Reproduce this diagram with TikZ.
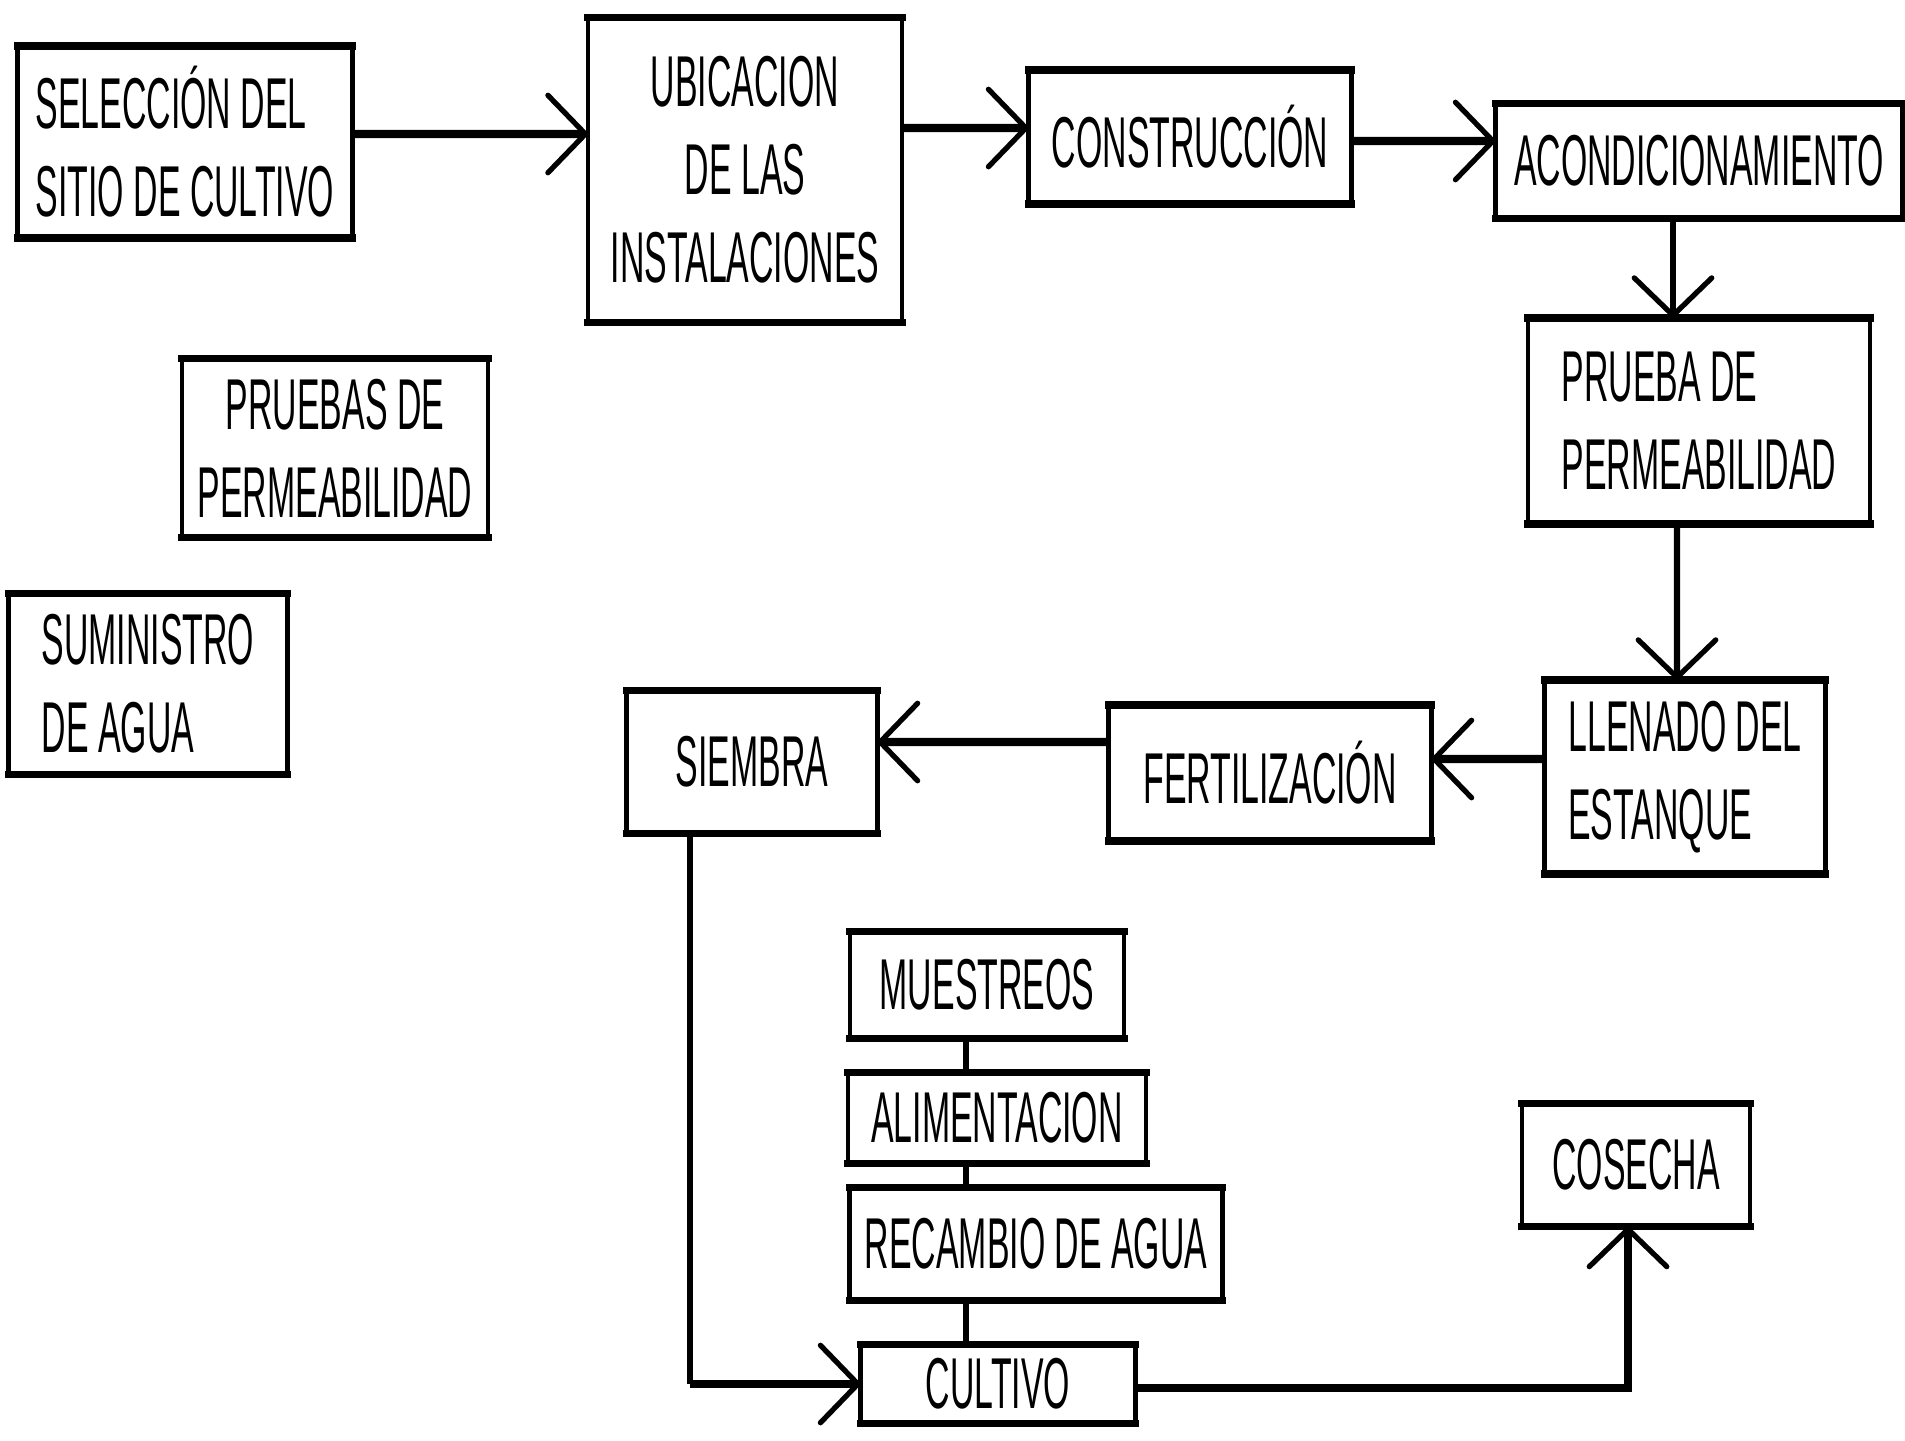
\documentclass[tikz,border=0pt]{standalone}
\usepackage{fontspec}
\setmainfont[FakeStretch=0.47]{Liberation Sans}
\usetikzlibrary{arrows.meta}

\tikzset{
  box/.style={draw, line width=2.6pt, outer sep=0pt, inner sep=2pt, font=\fontsize{41}{50}\selectfont},
  flow/.style={line width=4.6pt, -{Straight Barb[length=0.75cm,width=1.55cm,line width=3pt,round]}},
  vflow/.style={flow, line width=3.6pt},
  link/.style={line width=3.2pt},
}

\begin{document}
\begin{tikzpicture}[x=0.02cm, y=-0.02cm]
		\useasboundingbox (0,0) rectangle (1905,1440);
		% top row
		\node[box, minimum width=6.70cm, minimum height=3.84cm, align=left] (sel) at (185,142) {SELECCIÓN DEL\\SITIO DE CULTIVO};
		\node[box, minimum width=6.28cm, minimum height=6.10cm, align=center] (ubi) at (745,170) {UBICACION\\DE LAS\\INSTALACIONES};
		\node[box, minimum width=6.46cm, minimum height=2.68cm] (con) at (1190,137) {CONSTRUCCIÓN};
		\node[box, minimum width=8.14cm, minimum height=2.30cm] (aco) at (1699,161) {ACONDICIONAMIENTO};
		% loose boxes on the left
		\node[box, minimum width=6.12cm, minimum height=3.58cm, align=center] (prl) at (335,448) {PRUEBAS DE\\PERMEABILIDAD};
		\node[box, minimum width=5.58cm, minimum height=3.62cm, align=left] (sum) at (148,684) {SUMINISTRO\\DE AGUA};
		% right column and middle row
		\node[box, minimum width=6.84cm, minimum height=4.12cm, align=left] (pru) at (1699,421) {PRUEBA DE\\PERMEABILIDAD};
		\node[box, minimum width=5.62cm, minimum height=3.88cm, align=left] (lle) at (1685,777) {LLENADO DEL\\ESTANQUE};
		\node[box, minimum width=6.46cm, minimum height=2.72cm] (fer) at (1270,773) {FERTILIZACIÓN};
		\node[box, minimum width=5.02cm, minimum height=2.86cm] (sie) at (752,762) {SIEMBRA};
		% cultivo stack
		\node[box, minimum width=5.48cm, minimum height=2.14cm] (mue) at (987,985) {MUESTREOS};
		\node[box, minimum width=5.96cm, minimum height=1.82cm] (ali) at (997,1118) {ALIMENTACION};
		\node[box, minimum width=7.46cm, minimum height=2.26cm] (rec) at (1036,1244) {RECAMBIO DE AGUA};
		\node[box, minimum width=5.50cm, minimum height=1.58cm] (cul) at (998,1384) {CULTIVO};
		\node[box, minimum width=4.56cm, minimum height=2.46cm] (cos) at (1636,1165) {COSECHA};
		% heavier top and bottom edges
		\foreach \n in {sel,ubi,con,aco,prl,sum,pru,lle,fer,sie,mue,ali,rec,cul,cos}
			\draw[line width=4.3pt, line cap=rect] (\n.north west) -- (\n.north east) (\n.south west) -- (\n.south east);
		% arrows
		\draw[flow] ([yshift=0.16cm]sel.east) -- ([yshift=0.72cm]ubi.west);
		\draw[flow] ([yshift=0.84cm]ubi.east) -- ([yshift=0.18cm]con.west);
		\draw[flow] ([yshift=-0.08cm]con.east) -- ([yshift=0.40cm]aco.west);
		\draw[vflow] ([xshift=-0.52cm]aco.south) -- ([xshift=-0.52cm]pru.north);
		\draw[vflow] ([xshift=-0.44cm]pru.south) -- ([xshift=-0.16cm]lle.north);
		\draw[flow] ([yshift=0.36cm]lle.west) -- ([yshift=0.28cm]fer.east);
		\draw[flow] ([yshift=0.62cm]fer.west) -- ([yshift=0.40cm]sie.east);
		\coordinate (bend) at ([xshift=-1.24cm]sie.south |- cul.west);
		\draw[link] ([xshift=-1.24cm]sie.south) -- (bend);
		\draw[flow] (bend) -- (cul.west);
		\draw[link] ([xshift=-0.42cm]mue.south) -- ([xshift=-0.62cm]ali.north);
		\draw[link] ([xshift=-0.62cm]ali.south) -- ([xshift=-1.40cm]rec.north);
		\draw[link] ([xshift=-1.40cm]rec.south) -- ([xshift=-0.64cm]cul.north);
		\draw[flow] ([yshift=-0.08cm]cul.east) -| ([xshift=-0.16cm]cos.south);
	\end{tikzpicture}
\end{document}
